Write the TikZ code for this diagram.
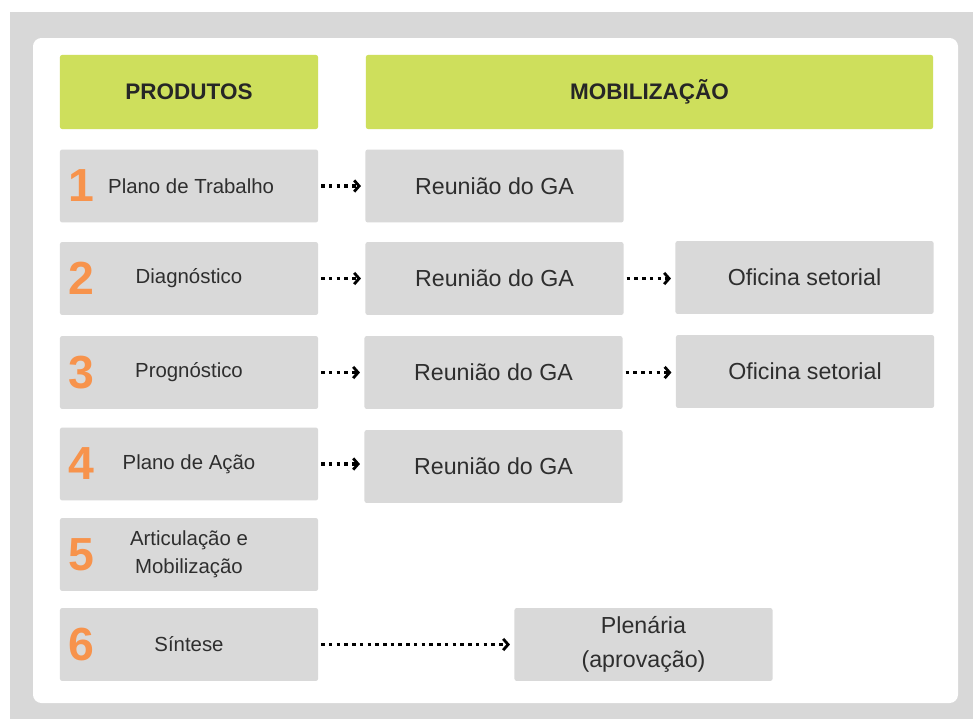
\documentclass[tikz,border=0pt]{standalone}
\usepackage{fontspec}
\setmainfont{Liberation Sans}
\usepackage{tikz}
\usetikzlibrary{arrows.meta}
\definecolor{boxgray}{HTML}{D9D9D9}
\definecolor{framegray}{HTML}{D8D8D8}
\definecolor{limegreen}{HTML}{CEDF5C}
\definecolor{numorange}{HTML}{F7934C}
\definecolor{txtgray}{HTML}{2E2E2E}

\begin{document}
\begin{tikzpicture}[x=0.025cm, y=-0.025cm,
    prodbox/.style={fill=boxgray, rounded corners=1.5pt, minimum width=6.45cm, minimum height=1.82cm,
        inner sep=0pt, text=txtgray, align=center, font=\fontsize{14.5}{20}\selectfont},
    mobbox/.style={prodbox, font=\fontsize{16.5}{24}\selectfont},
    headbox/.style={fill=limegreen, rounded corners=1.5pt, minimum height=1.85cm, inner sep=0pt,
        text=black!85, font=\bfseries\fontsize{16}{18}\selectfont},
    num/.style={text=numorange, font=\bfseries\fontsize{33}{33}\selectfont},
    flow/.style={line width=2.5pt, dash pattern=on 2.5pt off 3pt, shorten <=2pt, shorten >=3pt,
        -{Straight Barb[length=3.5pt,width=8pt,line width=2pt]}}]
   \useasboundingbox (0,0) rectangle (973,719);
   % frame and panel
   \fill[framegray] (10,12) rectangle (973,719);
   \fill[white, rounded corners=6pt] (33,38) rectangle (958,703);
   % headers
   \node[headbox, minimum width=6.45cm] (produtos) at (189,92) {PRODUTOS};
   \node[headbox, minimum width=14.175cm] (mobilizacao) at (649.5,92) {MOBILIZAÇÃO};
   % products
   \node[prodbox] (p1) at (189,186) {\hspace*{3pt}Plano de Trabalho};
   \node[prodbox] (p2) at (189,278.5) {Diagnóstico};
   \node[prodbox] (p3) at (189,372.5) {Prognóstico};
   \node[prodbox] (p4) at (189,464) {Plano de Ação};
   \node[prodbox] (p5) at (189,554.5) {Articulação e\\Mobilização};
   \node[prodbox] (p6) at (189,644.5) {Síntese};
   \node[num] (n1) at (81,186) {1};
   \node[num] (n2) at (81,278.5) {2};
   \node[num] (n3) at (81,372.5) {3};
   \node[num] (n4) at (81,464) {4};
   \node[num] (n5) at (81,554.5) {5};
   \node[num] (n6) at (81,644.5) {6};
   % mobilization
   \node[mobbox] (r1) at (494.5,186) {Reunião do GA};
   \node[mobbox] (r2) at (494.5,278.5) {Reunião do GA};
   \node[mobbox] (r3) at (493.5,372.5) {Reunião do GA};
   \node[mobbox] (r4) at (493.5,466.5) {Reunião do GA};
   \node[mobbox] (o2) at (804.5,277.5) {Oficina setorial};
   \node[mobbox] (o3) at (805,371.5) {Oficina setorial};
   \node[mobbox] (pl) at (643.5,644.5) {Plenária\\(aprovação)};
   % arrows
   \draw[flow] (p1) -- (r1);
   \draw[flow] (p2) -- (r2);
   \draw[flow] (p3) -- (r3);
   \draw[flow] (p4.east) -- (r4.west |- p4.east);
   \draw[flow] (r2) -- (o2.west |- r2.east);
   \draw[flow] (r3) -- (o3.west |- r3.east);
   \draw[flow] (p6) -- (pl);
\end{tikzpicture}
\end{document}
